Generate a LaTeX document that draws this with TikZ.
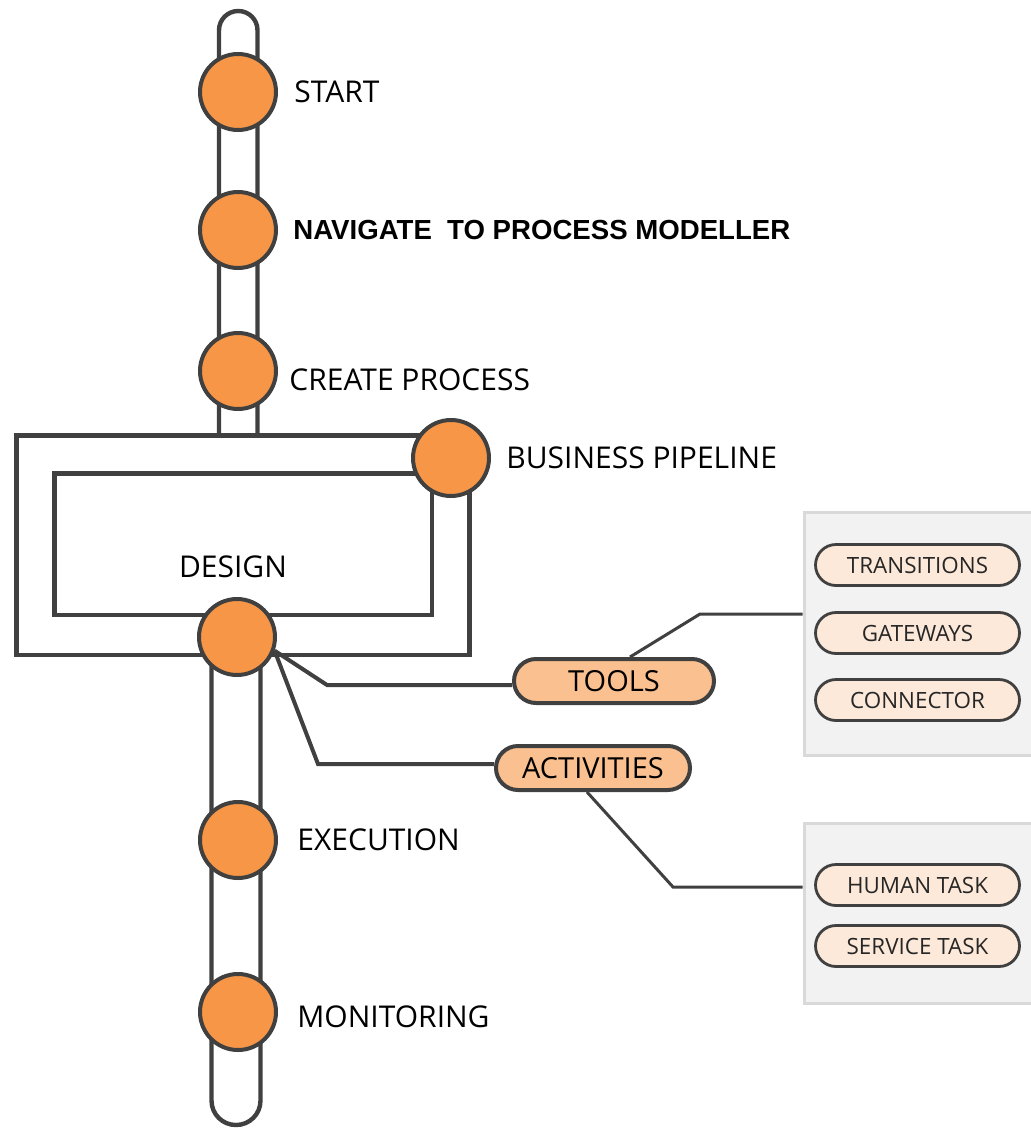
\documentclass[tikz,border=0pt]{standalone}
\usepackage{fontspec}
\setmainfont{Open Sans}
\newfontfamily\navfont{Liberation Sans}
\usetikzlibrary{positioning,calc,fit,shapes.misc}
\definecolor{stepfill}{HTML}{F79646}
\definecolor{railgray}{HTML}{404040}
\definecolor{pillfill}{HTML}{FAC090}
\definecolor{itemfill}{HTML}{FDE9D9}
\definecolor{panelfill}{HTML}{F2F2F2}
\definecolor{panelline}{HTML}{D9D9D9}

\begin{document}
\begin{tikzpicture}[x=0.5pt,y=-0.5pt,
  rail/.style={draw=railgray, line width=2.2pt},
  stop/.style={circle, draw=railgray, line width=2pt, fill=stepfill, minimum size=38pt, inner sep=0pt},
  caption/.style={inner sep=0pt, font=\fontsize{15}{18}\selectfont},
  link/.style={draw=railgray, line width=2pt},
  sublink/.style={draw=railgray, line width=1.5pt},
  group/.style={rounded rectangle, draw=railgray, line width=2pt, fill=pillfill, minimum width=100pt, minimum height=22pt, inner sep=0pt, font=\fontsize{14.5}{17}\selectfont},
  item/.style={rounded rectangle, draw=railgray, line width=1.4pt, fill=itemfill, minimum width=102pt, minimum height=20.5pt, inner sep=0pt, font=\fontsize{11.2}{13}\selectfont, text=black!85},
  panel/.style={draw=panelline, line width=1.5pt, fill=panelfill, inner sep=0pt}]

  \useasboundingbox (0,0) rectangle (1031,1129);

  % tracks
  \draw[rail, rounded corners=9.6pt] (219,435) -- (219,11) -- (257.5,11) -- (257.5,435);
  \draw[rail, rounded corners=12.2pt] (211.5,655) -- (211.5,1125) -- (260.5,1125) -- (260.5,655);
  \draw[rail] (16.5,435.5) rectangle (469.5,655);
  \draw[rail] (54.5,473.3) rectangle (431.7,615);

  \foreach \n/\x/\y in {st/238/92, nav/238/230, crt/238/371, biz/451/458, dsg/237/637, exe/238/840, mon/238/1012}
    \node[stop] (\n) at (\x,\y) {};

  \node[caption, right=8pt of st] (lst) {START};
  \node[caption, right=7.5pt of nav, font={\navfont\bfseries\fontsize{13.8}{16}\selectfont}] (lnav) {NAVIGATE\ \ TO PROCESS MODELLER};
  \node[caption, right=5.5pt of crt, yshift=-4.5pt] (lcrt) {CREATE PROCESS};
  \node[caption, right=7.5pt of biz] (lbiz) {BUSINESS PIPELINE};
  \node[caption] (ldsg) at (233,567) {DESIGN};
  \node[caption, right=9.5pt of exe] (lexe) {EXECUTION};
  \node[caption, right=9.5pt of mon, yshift=-2.5pt] (lmon) {MONITORING};

  % side panels
  \node[panel, fit={(804,512) (1036,755)}] (tpan) {};
  \node[panel, fit={(804,823) (1036,1003)}] (apan) {};

  \foreach \n/\y/\t in {tr/565/TRANSITIONS, gw/633/GATEWAYS, cn/700/CONNECTOR, ht/885/HUMAN TASK, sv/946/SERVICE TASK}
    \node[item] (\n) at (917.5,\y) {\t};

  \node[group] (tools) at (614,681) {TOOLS};
  \node[group, minimum width=97pt] (acts) at (593,768) {ACTIVITIES};

  \coordinate (tk) at (327,685);
  \coordinate (ak) at (318,764);
  \coordinate (tb) at (700,614);
  \coordinate (ab) at (673,887);
  \draw[link] (dsg.-20) -- (tk) -- (tk -| tools.west);
  \draw[link] (dsg.-20) -- (ak) -- (ak -| acts.west);
  \draw[sublink] ($(tools.north)+(16,0)$) -- (tb) -- (tb -| tpan.west);
  \draw[sublink] ($(acts.south)+(-6,0)$) -- (ab) -- (ab -| apan.west);

\end{tikzpicture}
\end{document}
